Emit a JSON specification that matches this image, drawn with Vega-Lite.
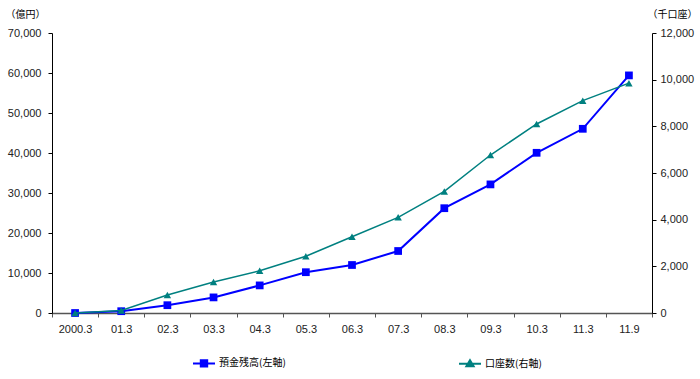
{
  "$schema": "https://vega.github.io/schema/vega-lite/v6.json",
  "width": 600,
  "height": 280,
  "autosize": {"type": "none"},
  "padding": {"left": 52, "top": 33, "right": 48, "bottom": 66},
  "background": "white",
  "data": {
    "values": [
      {"period": "2000.3", "deposit": 0, "accounts": 0},
      {"period": "01.3", "deposit": 450, "accounts": 110},
      {"period": "02.3", "deposit": 1950, "accounts": 770},
      {"period": "03.3", "deposit": 3900, "accounts": 1330},
      {"period": "04.3", "deposit": 6900, "accounts": 1810},
      {"period": "05.3", "deposit": 10200, "accounts": 2430},
      {"period": "06.3", "deposit": 12000, "accounts": 3270},
      {"period": "07.3", "deposit": 15500, "accounts": 4100},
      {"period": "08.3", "deposit": 26200, "accounts": 5210},
      {"period": "09.3", "deposit": 32150, "accounts": 6770},
      {"period": "10.3", "deposit": 40050, "accounts": 8100},
      {"period": "11.3", "deposit": 46050, "accounts": 9100},
      {"period": "11.9", "deposit": 59400, "accounts": 9850}
    ]
  },
  "encoding": {
    "x": {
      "field": "period",
      "type": "ordinal",
      "sort": null,
      "bandPosition": 0.5,
      "scale": {"type": "band", "paddingInner": 0, "paddingOuter": 0},
      "axis": {
        "title": null,
        "labelAngle": 0,
        "tickBand": "extent",
        "labelFont": "Liberation Sans",
        "labelFontSize": 11,
        "labelColor": "#222",
        "labelPadding": 6,
        "tickSize": 4,
        "tickColor": "#555",
        "domainColor": "#555",
        "domainWidth": 1.5,
        "grid": false
      }
    }
  },
  "layer": [
    {
      "mark": {"type": "line", "strokeWidth": 2, "point": {"shape": "square", "size": 60, "filled": true, "opacity": 1}},
      "encoding": {
        "y": {
          "field": "deposit",
          "type": "quantitative",
          "scale": {"domain": [0, 70000], "nice": false},
          "axis": {
            "values": [0, 10000, 20000, 30000, 40000, 50000, 60000, 70000],
            "format": ",d",
            "grid": false,
            "title": "（億円）",
            "titleAngle": 0,
            "titleX": -47,
            "titleY": -19,
            "titleAlign": "left",
            "titleBaseline": "middle",
            "titleFont": "Noto Sans CJK JP",
            "titleFontSize": 10,
            "titleFontWeight": "normal",
            "titleColor": "#000",
            "labelFont": "Liberation Sans",
            "labelFontSize": 11,
            "labelColor": "#222",
            "labelPadding": 7,
            "tickSize": 4,
            "tickColor": "#000",
            "domainColor": "#000"
          }
        },
        "color": {
          "datum": "預金残高(左軸)",
          "legend": {
            "encode": {
              "symbols": {
                "update": {
                  "shape": {"signal": "datum.value === '預金残高(左軸)' ? 'M-2.75,0H2.75M-0.8,-0.8H0.8V0.8H-0.8Z' : 'M-2.75,0H2.75M0,-0.9L0.9,0.6H-0.9Z'"},
                  "fill": {"scale": "color", "field": "value"},
                  "stroke": {"scale": "color", "field": "value"},
                  "strokeWidth": {"value": 2},
                  "opacity": {"value": 1}
                }
              }
            }
          }
        }
      }
    },
    {
      "mark": {"type": "line", "strokeWidth": 1.5, "point": {"shape": "triangle-up", "size": 55, "filled": true, "opacity": 1}},
      "encoding": {
        "y": {
          "field": "accounts",
          "type": "quantitative",
          "scale": {"domain": [0, 12000], "nice": false},
          "axis": {
            "orient": "right",
            "values": [0, 2000, 4000, 6000, 8000, 10000, 12000],
            "format": ",d",
            "grid": false,
            "title": "（千口座）",
            "titleAngle": 0,
            "titleX": -5,
            "titleY": -19,
            "titleAlign": "left",
            "titleBaseline": "middle",
            "titleFont": "Noto Sans CJK JP",
            "titleFontSize": 10,
            "titleFontWeight": "normal",
            "titleColor": "#000",
            "labelFont": "Liberation Sans",
            "labelFontSize": 11,
            "labelColor": "#222",
            "labelPadding": 4,
            "tickSize": 4,
            "tickColor": "#000",
            "domainColor": "#000"
          }
        },
        "color": {"datum": "口座数(右軸)"}
      }
    }
  ],
  "resolve": {"scale": {"y": "independent"}},
  "config": {
    "view": {"stroke": null},
    "range": {"category": ["#0000FF", "#008080"]},
    "legend": {
      "orient": "none",
      "legendX": 147,
      "legendY": 325,
      "direction": "horizontal",
      "title": null,
      "labelFont": "Noto Sans CJK JP",
      "labelFontSize": 10,
      "labelColor": "#000",
      "symbolSize": 64,
      "labelOffset": 10,
      "columnPadding": 169,
      "symbolStrokeWidth": 2
    }
  }
}
